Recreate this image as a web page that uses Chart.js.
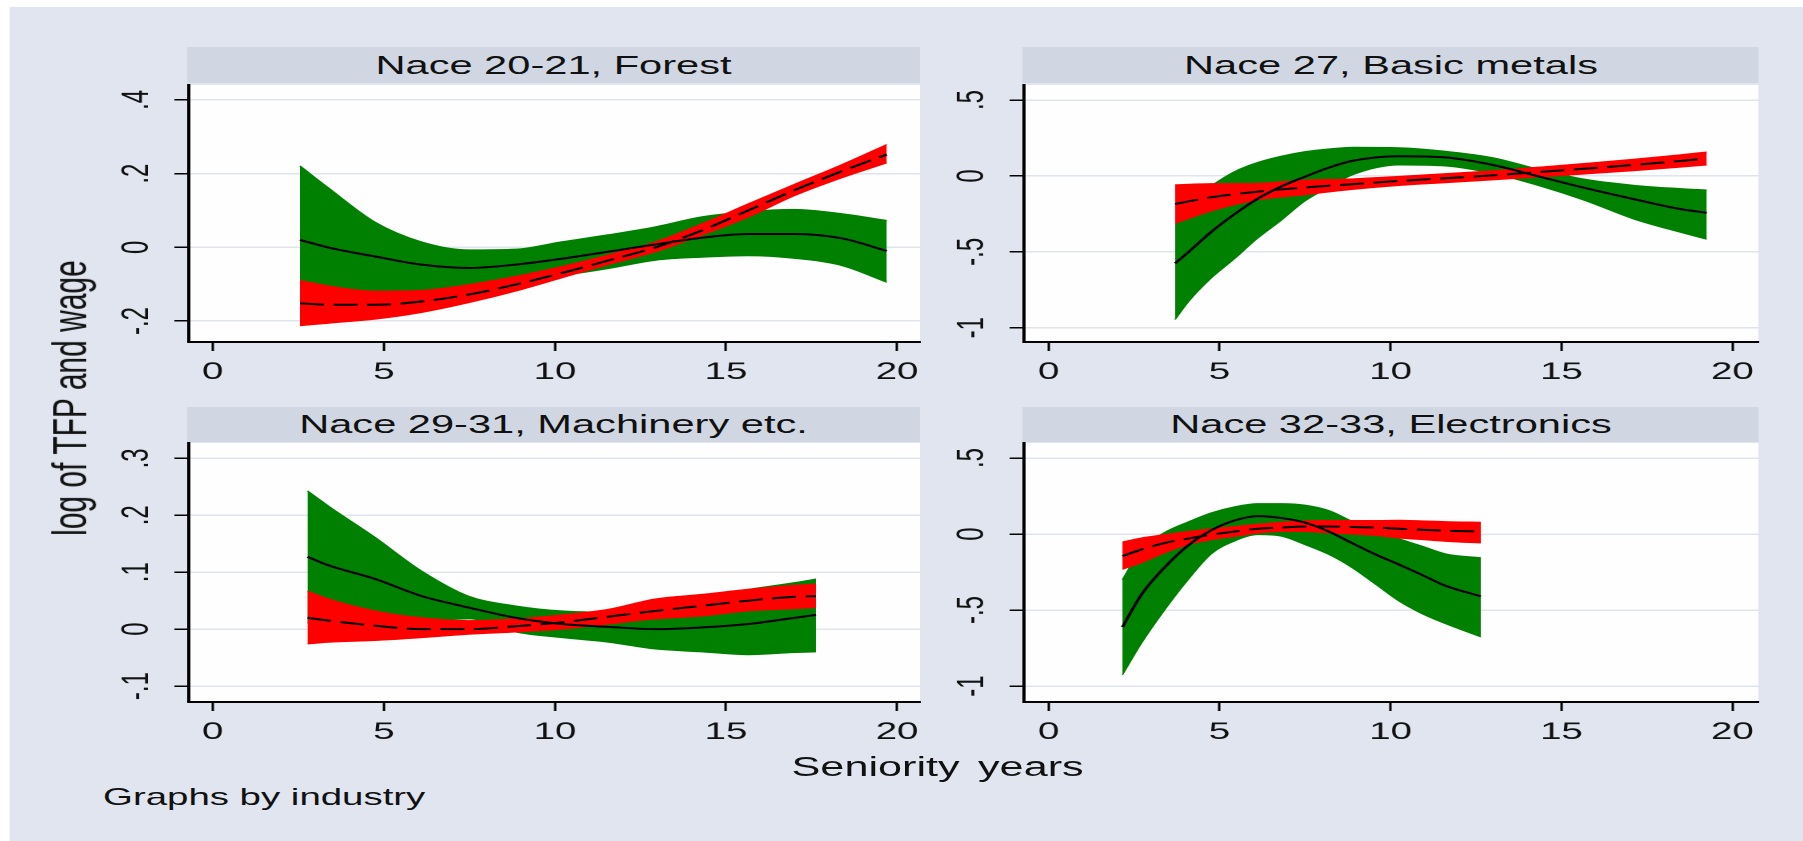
<!DOCTYPE html>
<html>
<head>
<meta charset="utf-8">
<script src="https://cdn.jsdelivr.net/npm/chart.js@4.4.1/dist/chart.umd.min.js"></script>
<style>
  html, body { margin: 0; padding: 0; background: #ffffff; overflow: hidden; }
  body { width: 1803px; height: 841px; position: relative; }
  #stage { position: absolute; left: 0; top: 0; width: 1127px; height: 841px;
           transform: scaleX(1.6); transform-origin: 0 0;
           font-family: "Liberation Sans", Arial, sans-serif; color: #111; }
  .abs { position: absolute; }
  .bg { background: #e0e5ef; }
  .strip { background: #d0d7e3; display: flex; align-items: center; justify-content: center;
           font-size: 26px; white-space: nowrap; }
  canvas { position: absolute; }
</style>
</head>
<body>
<div id="stage">
  <div class="abs bg" style="left:5.6px; top:7px; width:1121.4px; height:834px;"></div>

  <div class="abs strip" style="left:116.9px; top:47px; width:458.1px; height:36px;">Nace 20-21, Forest</div>
  <div class="abs strip" style="left:639.4px; top:47px; width:460px; height:36px;">Nace 27, Basic metals</div>
  <div class="abs strip" style="left:116.9px; top:407px; width:458.1px; height:35px;">Nace 29-31, Machinery etc.</div>
  <div class="abs strip" style="left:639.4px; top:407px; width:460px; height:35px;">Nace 32-33, Electronics</div>

  <canvas id="c1" width="537" height="332" style="left:58px; top:60px; width:537px; height:332px;"></canvas>
  <canvas id="c2" width="539" height="332" style="left:580px; top:60px; width:539px; height:332px;"></canvas>
  <canvas id="c3" width="537" height="334" style="left:58px; top:418px; width:537px; height:334px;"></canvas>
  <canvas id="c4" width="539" height="334" style="left:580px; top:418px; width:539px; height:334px;"></canvas>

  <div class="abs" style="left:44px; top:398px; transform: translate(-50%,-50%) rotate(-90deg); font-size:30px; white-space:nowrap;">log of TFP and wage</div>
  <div class="abs" style="left:586px; top:767px; transform: translate(-50%,-50%); font-size:27px; word-spacing:4px; white-space:nowrap;">Seniority years</div>
  <div class="abs" style="left:64.4px; top:797px; transform: translate(0,-50%); font-size:24px; white-space:nowrap;">Graphs by industry</div>
</div>

<script>
// ---------- Shared tick definitions ----------
const xTicks = [0, 5, 10, 15, 20];
const xTickLabels = ['0', '5', '10', '15', '20'];

const yTicks1 = [-0.2, 0, 0.2, 0.4];
const yTickLabels1 = ['-.2', '0', '.2', '.4'];
const yTicks2 = [-1, -0.5, 0, 0.5];
const yTickLabels2 = ['-1', '-.5', '0', '.5'];
const yTicks3 = [-0.1, 0, 0.1, 0.2, 0.3];
const yTickLabels3 = ['-.1', '0', '.1', '.2', '.3'];
const yTicks4 = [-1, -0.5, 0, 0.5];
const yTickLabels4 = ['-1', '-.5', '0', '.5'];

const panelTitles = ['Nace 20-21, Forest', 'Nace 27, Basic metals', 'Nace 29-31, Machinery etc.', 'Nace 32-33, Electronics'];

// ---------- Panel 1: Nace 20-21, Forest ----------
const x1 = [2.55, 3.4, 4.75, 6.1, 7.5, 8.85, 10.2, 11.55, 12.95, 14.3, 15.65, 17.0, 18.4, 19.7];
const tfp1 = [0.020, -0.001, -0.025, -0.047, -0.056, -0.047, -0.031, -0.012, 0.008, 0.026, 0.036, 0.036, 0.024, -0.010];
const tfpHi1 = [0.221, 0.160, 0.068, 0.015, -0.007, -0.005, 0.015, 0.034, 0.056, 0.083, 0.097, 0.103, 0.091, 0.073];
const tfpLo1 = [-0.181, -0.162, -0.130, -0.128, -0.112, -0.092, -0.077, -0.058, -0.035, -0.027, -0.023, -0.030, -0.050, -0.095];
const wage1 = [-0.152, -0.156, -0.156, -0.147, -0.128, -0.101, -0.070, -0.036, 0.000, 0.046, 0.100, 0.155, 0.207, 0.252];
const wageHi1 = [-0.090, -0.105, -0.119, -0.117, -0.101, -0.079, -0.052, -0.021, 0.015, 0.064, 0.118, 0.171, 0.225, 0.279];
const wageLo1 = [-0.213, -0.206, -0.195, -0.177, -0.150, -0.119, -0.083, -0.047, -0.012, 0.033, 0.082, 0.140, 0.189, 0.229];

// ---------- Panel 2: Nace 27, Basic metals ----------
const x2 = [3.7, 4.1, 4.75, 5.45, 6.1, 6.8, 7.5, 8.2, 8.9, 10.25, 11.6, 13.0, 14.35, 15.7, 17.1, 18.45, 19.25];
const tfp2 = [-0.576, -0.500, -0.370, -0.250, -0.152, -0.070, -0.005, 0.055, 0.100, 0.130, 0.122, 0.072, -0.004, -0.080, -0.152, -0.217, -0.243];
const tfpHi2 = [-0.206, -0.174, -0.066, 0.030, 0.088, 0.130, 0.160, 0.178, 0.189, 0.186, 0.163, 0.120, 0.043, -0.022, -0.061, -0.083, -0.093];
const tfpLo2 = [-0.946, -0.826, -0.674, -0.543, -0.413, -0.293, -0.165, -0.075, 0.008, 0.072, 0.065, 0.015, -0.065, -0.163, -0.283, -0.370, -0.417];
const xw2 = [3.7, 4.75, 6.1, 7.5, 8.9, 10.25, 11.6, 13.0, 14.35, 15.7, 17.1, 18.45, 19.25];
const wage2 = [-0.185, -0.141, -0.104, -0.076, -0.054, -0.033, -0.015, 0.004, 0.026, 0.048, 0.072, 0.098, 0.115];
const wageHi2 = [-0.058, -0.051, -0.049, -0.028, -0.019, -0.003, 0.015, 0.034, 0.058, 0.083, 0.110, 0.139, 0.158];
const wageLo2 = [-0.312, -0.231, -0.159, -0.124, -0.089, -0.063, -0.045, -0.026, -0.006, 0.013, 0.034, 0.057, 0.072];

// ---------- Panel 3: Nace 29-31, Machinery etc. ----------
const x3 = [2.77, 3.39, 4.75, 6.11, 7.48, 8.84, 10.2, 11.57, 12.93, 14.29, 15.66, 17.02, 17.63];
const tfp3 = [0.127, 0.112, 0.088, 0.058, 0.038, 0.020, 0.009, 0.004, 0.000, 0.003, 0.009, 0.020, 0.025];
const tfpHi3 = [0.243, 0.216, 0.161, 0.102, 0.058, 0.041, 0.032, 0.030, 0.040, 0.056, 0.070, 0.082, 0.088];
const tfpLo3 = [0.011, 0.008, 0.015, 0.014, 0.018, -0.005, -0.015, -0.023, -0.035, -0.040, -0.045, -0.041, -0.040];
const wage3 = [0.020, 0.015, 0.006, 0.000, 0.000, 0.005, 0.012, 0.022, 0.032, 0.041, 0.050, 0.057, 0.058];
const wageHi3 = [0.067, 0.053, 0.032, 0.020, 0.015, 0.018, 0.025, 0.035, 0.053, 0.061, 0.070, 0.077, 0.079];
const wageLo3 = [-0.026, -0.023, -0.020, -0.015, -0.009, -0.005, 0.000, 0.009, 0.018, 0.023, 0.032, 0.036, 0.038];

// ---------- Panel 4: Nace 32-33, Electronics ----------
const x4 = [2.16, 2.71, 3.39, 4.08, 4.76, 5.45, 6.13, 6.82, 7.5, 8.19, 8.87, 9.56, 10.24, 10.93, 11.61, 12.64];
const tfp4 = [-0.612, -0.400, -0.220, -0.075, 0.025, 0.090, 0.118, 0.105, 0.075, 0.017, -0.059, -0.134, -0.200, -0.270, -0.340, -0.410];
const tfpHi4 = [-0.300, -0.100, 0.010, 0.080, 0.140, 0.180, 0.200, 0.200, 0.190, 0.155, 0.085, 0.020, -0.030, -0.080, -0.130, -0.156];
const tfpLo4 = [-0.926, -0.720, -0.500, -0.300, -0.130, -0.045, -0.004, -0.015, -0.070, -0.134, -0.220, -0.330, -0.440, -0.525, -0.590, -0.677];
const wage4 = [-0.145, -0.102, -0.059, -0.030, -0.004, 0.017, 0.035, 0.043, 0.050, 0.050, 0.046, 0.043, 0.035, 0.028, 0.022, 0.017];
const wageHi4 = [-0.052, -0.026, -0.004, 0.017, 0.035, 0.050, 0.065, 0.078, 0.087, 0.089, 0.089, 0.089, 0.091, 0.087, 0.082, 0.078];
const wageLo4 = [-0.232, -0.189, -0.124, -0.069, -0.037, -0.015, 0.007, 0.017, 0.017, 0.007, 0.000, -0.009, -0.026, -0.037, -0.048, -0.059];

// ---------- Styling ----------
const FONT = '"Liberation Sans", Arial, sans-serif';
const GREEN = '#008000';
const RED = '#ff0000';

const plotBg = {
  id: 'plotBg',
  beforeDraw(chart) {
    const { ctx, chartArea: a } = chart;
    ctx.save();
    ctx.fillStyle = '#fefefe';
    ctx.fillRect(a.left, a.top, a.right - a.left, a.bottom - a.top);
    ctx.restore();
  }
};

function pts(xs, ys) { return xs.map((x, i) => ({ x: x, y: ys[i] })); }

function makePanel(canvasId, p) {
  const lineBase = { pointRadius: 0, cubicInterpolationMode: 'monotone', fill: false };
  const datasets = [
    Object.assign({}, lineBase, { label: 'TFP', data: pts(p.x, p.tfp), borderColor: '#000', borderWidth: 2, order: 0 }),
    Object.assign({}, lineBase, { label: 'Wage', data: pts(p.xw, p.wage), borderColor: '#000', borderWidth: 2, borderDash: [15, 6], order: 1 }),
    Object.assign({}, lineBase, { label: 'Wage CI upper', data: pts(p.xw, p.wageHi), borderColor: RED, borderWidth: 1, order: 2 }),
    Object.assign({}, lineBase, { label: 'Wage CI lower', data: pts(p.xw, p.wageLo), borderColor: RED, borderWidth: 1, backgroundColor: RED, fill: '-1', order: 3 }),
    Object.assign({}, lineBase, { label: 'TFP CI upper', data: pts(p.x, p.tfpHi), borderColor: GREEN, borderWidth: 1, order: 4 }),
    Object.assign({}, lineBase, { label: 'TFP CI lower', data: pts(p.x, p.tfpLo), borderColor: GREEN, borderWidth: 1, backgroundColor: GREEN, fill: '-1', order: 5 })
  ];
  return new Chart(document.getElementById(canvasId), {
    type: 'line',
    data: { datasets: datasets },
    plugins: [plotBg],
    options: {
      responsive: false,
      animation: false,
      devicePixelRatio: 2,
      layout: { padding: { left: 0, top: 25, right: 20, bottom: 0 } },
      plugins: { legend: { display: false }, tooltip: { enabled: false }, title: { display: false } },
      scales: {
        x: {
          type: 'linear', position: 'bottom',
          min: p.xMin, max: p.xMax,
          afterBuildTicks: (s) => { s.ticks = xTicks.map(v => ({ value: v })); },
          afterFit: (s) => { s.height = 50; },
          ticks: {
            autoSkip: false, maxRotation: 0, minRotation: 0, padding: 7,
            color: '#111', font: { family: FONT, size: 24 },
            callback: (v) => { const i = xTicks.indexOf(v); return i >= 0 ? xTickLabels[i] : ''; }
          },
          grid: { drawOnChartArea: false, drawTicks: true, tickLength: 9, tickColor: '#000', tickWidth: 1.5 },
          border: { display: true, color: '#000', width: 2 }
        },
        y: {
          type: 'linear', position: 'left',
          min: p.yMin, max: p.yMax,
          afterBuildTicks: (s) => { s.ticks = p.yTicks.map(v => ({ value: v })); },
          afterFit: (s) => { s.width = 60; },
          ticks: {
            autoSkip: false, minRotation: 90, maxRotation: 90, crossAlign: 'center', padding: 9,
            color: '#111', font: { family: FONT, size: 24 },
            callback: (v) => { const i = p.yTicks.indexOf(v); return i >= 0 ? p.yLabels[i] : ''; }
          },
          grid: { drawOnChartArea: true, color: '#dfe4ee', lineWidth: 1.5, drawTicks: true, tickLength: 9, tickColor: '#000', tickWidth: 1.5 },
          border: { display: true, color: '#000', width: 2 }
        }
      }
    }
  });
}

makePanel('c1', { x: x1, tfp: tfp1, tfpHi: tfpHi1, tfpLo: tfpLo1, xw: x1, wage: wage1, wageHi: wageHi1, wageLo: wageLo1,
  xMin: -0.70, xMax: 20.67, yMin: -0.257, yMax: 0.4405, yTicks: yTicks1, yLabels: yTickLabels1 });
makePanel('c2', { x: x2, tfp: tfp2, tfpHi: tfpHi2, tfpLo: tfpLo2, xw: xw2, wage: wage2, wageHi: wageHi2, wageLo: wageLo2,
  xMin: -0.72, xMax: 20.76, yMin: -1.094, yMax: 0.599, yTicks: yTicks2, yLabels: yTickLabels2 });
makePanel('c3', { x: x3, tfp: tfp3, tfpHi: tfpHi3, tfpLo: tfpLo3, xw: x3, wage: wage3, wageHi: wageHi3, wageLo: wageLo3,
  xMin: -0.70, xMax: 20.67, yMin: -0.128, yMax: 0.327, yTicks: yTicks3, yLabels: yTickLabels3 });
makePanel('c4', { x: x4, tfp: tfp4, tfpHi: tfpHi4, tfpLo: tfpLo4, xw: x4, wage: wage4, wageHi: wageHi4, wageLo: wageLo4,
  xMin: -0.72, xMax: 20.76, yMin: -1.105, yMax: 0.599, yTicks: yTicks4, yLabels: yTickLabels4 });
</script>
</body>
</html>
